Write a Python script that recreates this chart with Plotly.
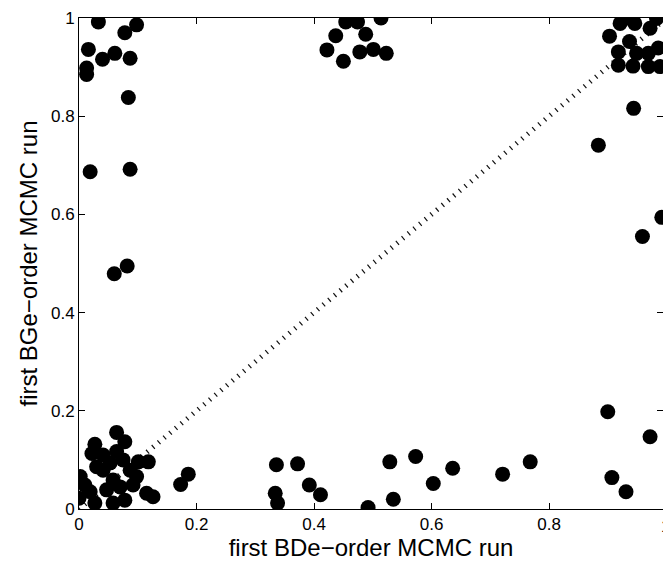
import plotly.graph_objects as go

# Posterior edge probabilities from two independent MCMC runs (BDe vs. BGe scoring)
bde_posterior = [
    # upper-left group
    0.033, 0.098, 0.078, 0.016, 0.061, 0.040, 0.087, 0.013, 0.013, 0.084,
    0.019, 0.087, 0.082, 0.060,
    # upper-middle group
    0.454, 0.474, 0.514, 0.437, 0.488, 0.422, 0.478, 0.501, 0.523, 0.450,
    # upper-right group
    0.921, 0.935, 0.946, 0.983, 0.972, 0.903, 0.937, 0.918, 0.949, 0.969,
    0.986, 0.918, 0.943, 0.969, 0.989,
    # right edge
    0.944, 0.884, 0.992, 0.959, 0.900, 0.972, 0.907, 0.931,
    # lower band
    0.768, 0.721, 0.636, 0.603, 0.573, 0.529, 0.535, 0.492, 0.411, 0.392,
    0.372, 0.336, 0.334, 0.338, 0.186, 0.173,
    # lower-left group
    0.064, 0.078, 0.027, 0.022, 0.041, 0.064, 0.118, 0.101, 0.087, 0.002,
    0.010, 0.000, 0.027, 0.058, 0.078, 0.115, 0.126, 0.041, 0.058, 0.070,
    0.092, 0.047, 0.030, 0.053, 0.075, 0.098, 0.019,
]
bge_posterior = [
    0.992, 0.986, 0.970, 0.936, 0.928, 0.916, 0.918, 0.898, 0.885, 0.838,
    0.687, 0.692, 0.495, 0.479,
    0.992, 0.992, 1.000, 0.964, 0.967, 0.935, 0.931, 0.936, 0.928, 0.912,
    0.989, 1.000, 0.989, 0.999, 0.979, 0.963, 0.952, 0.931, 0.928, 0.928,
    0.939, 0.904, 0.902, 0.901, 0.901,
    0.816, 0.741, 0.594, 0.555, 0.198, 0.147, 0.064, 0.035,
    0.096, 0.071, 0.083, 0.052, 0.107, 0.096, 0.020, 0.003, 0.029, 0.049,
    0.092, 0.090, 0.032, 0.012, 0.071, 0.050,
    0.156, 0.137, 0.132, 0.113, 0.110, 0.117, 0.096, 0.096, 0.079, 0.066,
    0.049, 0.022, 0.012, 0.012, 0.018, 0.032, 0.025, 0.079, 0.059, 0.045,
    0.049, 0.039, 0.086, 0.094, 0.100, 0.066, 0.035,
]

diag = [0, 1]
tick_vals = [0, 0.2, 0.4, 0.6, 0.8, 1]

FONT = "Liberation Sans, Arial, Helvetica, sans-serif"

fig = go.Figure()

# agreement line y = x
fig.add_trace(go.Scatter(
    x=diag, y=diag, mode="lines",
    line=dict(color="#111111", width=5, dash="1.2px,6.2px"),
    hoverinfo="skip", showlegend=False,
))

# edge posteriors, on the overlaid axis so they sit above the line
fig.add_trace(go.Scatter(
    x=bde_posterior, y=bge_posterior, mode="markers",
    marker=dict(size=15, color="black", line=dict(width=0)),
    yaxis="y2", showlegend=False,
))

axis_common = dict(
    ticks="inside", ticklen=6, tickwidth=1, tickcolor="black",
    showgrid=False, zeroline=False,
    tickfont=dict(family=FONT, size=17, color="black"),
)

fig.update_layout(
    width=663, height=569,
    margin=dict(l=79, r=0, t=18, b=60),
    paper_bgcolor="white", plot_bgcolor="white",
    xaxis=dict(
        range=[0, 0.994], tickvals=tick_vals[:-1],
        showline=True, linecolor="black", linewidth=1, mirror="ticks",
        title=dict(text="first BDe\u2212order MCMC run",
                   font=dict(family=FONT, size=24, color="black"), standoff=4),
        **axis_common,
    ),
    yaxis=dict(
        range=[0, 1], tickvals=tick_vals,
        showline=True, linecolor="black", linewidth=1, mirror=False,
        title=dict(text="first BGe\u2212order MCMC run",
                   font=dict(family=FONT, size=24, color="black"), standoff=6),
        **axis_common,
    ),
    yaxis2=dict(
        range=[0, 1], tickvals=tick_vals, overlaying="y", side="right",
        showline=False, showticklabels=False, **axis_common,
    ),
    annotations=[dict(
        text="1", x=1.0051, y=0, xref="paper", yref="paper",
        xanchor="center", yanchor="top", yshift=-6, showarrow=False,
        font=dict(family=FONT, size=17, color="black"),
    )],
)

fig.write_html("out.html")
